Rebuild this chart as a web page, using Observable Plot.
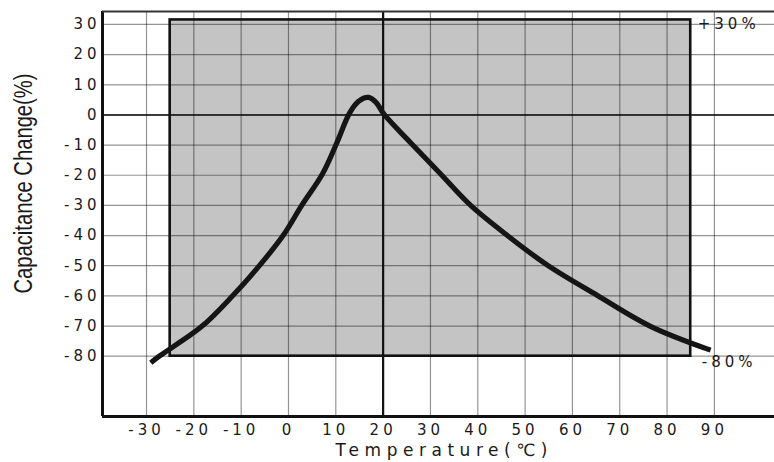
<!DOCTYPE html>
<html><head><meta charset="utf-8">
<script src="https://cdn.jsdelivr.net/npm/d3@7"></script>
<script src="https://cdn.jsdelivr.net/npm/@observablehq/plot@0.6"></script>
<style>body{margin:0;background:#fff} svg{display:block}</style>
</head><body><div id="chart"></div>
<script>
// Curve: temperature (°C) vs capacitance change (%)
const temperature = [-29.1, -27.3, -18.3, -11.7, -6.1, -1.1, 2.8, 7.2, 10.2, 12.9, 14.8, 16.9, 18.4, 20.3, 25.8, 32.1, 38.5, 46.2, 54.7, 65.2, 76.5, 89.2];
const capChange   = [-82.2, -80.0, -70.1, -59.8, -49.9, -39.9, -30.0, -19.5, -9.3, 0.6, 4.5, 5.8, 4.3, 0.0, -9.2, -19.5, -30.0, -39.9, -49.8, -59.8, -70.1, -78.0];
const xTicks = [-30, -20, -10, 0, 10, 20, 30, 40, 50, 60, 70, 80, 90];
const yTicks = [30, 20, 10, 0, -10, -20, -30, -40, -50, -60, -70, -80];
const xDomain = [-39.3, 102.7];
const yDomain = [-100, 34.3];
const tolTemp = [-25, 85];
const tolCap = [-80, 31.5];
const upperNote = "+30%";
const lowerNote = "-80%";
const xTitle = "Temperature(℃)";
const yTitle = "Capacitance Change(%)";

const curve = temperature.map((t, i) => ({t, c: capChange[i]}));
const band = [{x1: tolTemp[0], x2: tolTemp[1], y1: tolCap[0], y2: tolCap[1]}];

const fmt = d => String(d);
const plot = Plot.plot({
  width: 774, height: 462,
  marginLeft: 102, marginRight: 0, marginTop: 11, marginBottom: 46,
  style: {fontFamily: "DejaVu Sans", fontSize: "15px", color: "#1a1a1a", letterSpacing: "4px", background: "#fff"},
  x: {domain: xDomain, label: null},
  y: {domain: yDomain, label: null},
  marks: [
    Plot.rect(band, {x1: "x1", x2: "x2", y1: "y1", y2: "y2", fill: "#c4c4c4"}),
    Plot.ruleX(xTicks, {stroke: "#000", strokeOpacity: 0.42, strokeWidth: 1.2}),
    Plot.ruleY(yTicks, {stroke: "#000", strokeOpacity: 0.42, strokeWidth: 1.2}),
    Plot.rect(band, {x1: "x1", x2: "x2", y1: "y1", y2: "y2", fill: "none", stroke: "#111", strokeWidth: 2.6}),
    Plot.ruleY([0], {stroke: "#111", strokeWidth: 1.6}),
    Plot.ruleX([20], {stroke: "#111", strokeWidth: 2.2}),
    Plot.ruleX([xDomain[0]], {stroke: "#111", strokeWidth: 3}),
    Plot.ruleY([yDomain[0]], {stroke: "#111", strokeWidth: 3}),
    Plot.ruleY([yDomain[1]], {stroke: "#333", strokeWidth: 1.8}),
    Plot.line(curve, {x: "t", y: "c", curve: "catmull-rom", stroke: "#151515", strokeWidth: 5.2, strokeLinecap: "butt"}),
    Plot.axisX(xTicks, {tickSize: 0, tickPadding: 8, tickFormat: fmt, label: null}),
    Plot.axisY(yTicks, {tickSize: 0, tickPadding: 2, tickFormat: fmt, label: null}),
    Plot.text([upperNote], {x: tolTemp[1], y: 30, textAnchor: "start", dx: 7, dy: 0, fontSize: 15}),
    Plot.text([lowerNote], {x: tolTemp[1], y: tolCap[0], textAnchor: "start", dx: 11, dy: 6, fontSize: 15}),
    Plot.text([xTitle], {frameAnchor: "bottom", lineAnchor: "middle", dx: 3, dy: 34, fontSize: 17}),
    Plot.text([yTitle], {frameAnchor: "left", textAnchor: "middle", lineAnchor: "middle", dx: -79, dy: -30.5, rotate: -90, fontSize: 26, fontFamily: "Liberation Sans"})
  ]
});
document.getElementById("chart").append(plot);
d3.select(plot).selectAll("text").each(function() {
  const s = this.textContent;
  if (s === yTitle) d3.select(this).style("letter-spacing", "0").attr("textLength", 220).attr("lengthAdjust", "spacingAndGlyphs");
  if (s === xTitle) d3.select(this).style("letter-spacing", "0").attr("textLength", 212).attr("lengthAdjust", "spacing");
});
</script>
</body></html>
